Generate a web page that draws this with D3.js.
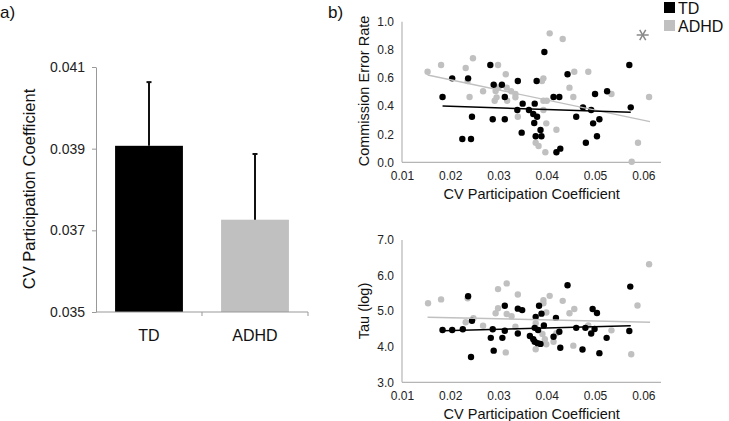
<!DOCTYPE html>
<html><head><meta charset="utf-8">
<script src="https://cdn.jsdelivr.net/npm/d3@7/dist/d3.min.js"></script>
<style>
body{margin:0;background:#fff}
svg{display:block}
text{font-family:"Liberation Sans",Arial,sans-serif}
</style>
</head><body>
<svg id="c" width="729" height="421"></svg>
<script>
// ---------- Panel a: bar chart ----------
const barCategories = ["TD", "ADHD"];
const barMeans = [0.03907, 0.03726];
const barErrors = [0.00156, 0.00161];
const barTicks = [0.035, 0.037, 0.039, 0.041];

// ---------- Panel b: scatter data ----------
const tdCvTop = [0.0184,0.0204,0.0237,0.0283,0.0245,0.0225,0.0243,0.0290,0.0307,0.0288,0.0313,0.0313,0.0340,0.0379,0.0339,0.0350,0.0363,0.0375,0.0372,0.0380,0.0374,0.0348,0.0377,0.0395,0.0387,0.0389,0.0414,0.0426,0.0443,0.0420,0.0428,0.0461,0.0475,0.0492,0.0500,0.0496,0.0509,0.0481,0.0504,0.0525,0.0571,0.0574];
const tdCommission = [0.464,0.597,0.597,0.692,0.324,0.166,0.166,0.552,0.552,0.306,0.306,0.464,0.578,0.578,0.372,0.417,0.372,0.417,0.344,0.324,0.280,0.211,0.185,0.784,0.230,0.185,0.464,0.464,0.626,0.071,0.097,0.324,0.391,0.372,0.486,0.277,0.306,0.139,0.185,0.505,0.692,0.391];
const adhdCvTop = [0.0153,0.0181,0.0232,0.0247,0.0299,0.0315,0.0236,0.0240,0.0268,0.0294,0.0300,0.0292,0.0296,0.0317,0.0318,0.0326,0.0335,0.0335,0.0340,0.0377,0.0383,0.0406,0.0433,0.0457,0.0486,0.0393,0.0390,0.0447,0.0455,0.0393,0.0400,0.0393,0.0534,0.0612,0.0399,0.0420,0.0397,0.0589,0.0576];
const adhdCommission = [0.644,0.692,0.671,0.740,0.692,0.626,0.578,0.464,0.505,0.507,0.533,0.438,0.462,0.531,0.438,0.505,0.486,0.462,0.324,0.139,0.116,0.917,0.877,0.644,0.644,0.597,0.578,0.531,0.464,0.438,0.438,0.372,0.486,0.464,0.277,0.232,0.071,0.139,0.004];

const tdCvBottom = [0.0184,0.0204,0.0226,0.0237,0.0245,0.0243,0.0288,0.0284,0.0290,0.0308,0.0313,0.0313,0.0340,0.0349,0.0340,0.0365,0.0372,0.0375,0.0381,0.0377,0.0384,0.0375,0.0382,0.0443,0.0573,0.0389,0.0419,0.0495,0.0504,0.0394,0.0426,0.0461,0.0480,0.0499,0.0492,0.0414,0.0524,0.0571,0.0428,0.0474,0.0509,0.0387];
const tdTau = [4.47,4.47,4.49,5.42,4.73,3.71,4.49,4.25,3.89,4.25,5.15,4.45,5.07,5.03,4.37,4.30,4.21,4.14,4.10,4.84,5.15,4.53,4.47,5.73,5.69,4.93,4.81,5.06,4.95,4.60,4.42,4.53,4.53,4.50,4.37,4.28,4.25,4.44,3.97,3.92,3.82,4.08];
const adhdCvBottom = [0.0154,0.0181,0.0236,0.0232,0.0248,0.0268,0.0294,0.0299,0.0317,0.0327,0.0299,0.0317,0.0340,0.0315,0.0335,0.0377,0.0377,0.0393,0.0393,0.0406,0.0433,0.0447,0.0457,0.0399,0.0391,0.0396,0.0399,0.0414,0.0455,0.0486,0.0534,0.0588,0.0612,0.0575,0.0420];
const adhdTau = [5.22,5.33,5.36,4.69,4.80,4.59,4.94,5.08,4.92,4.86,5.62,5.78,5.47,3.84,4.56,4.66,3.93,5.31,5.22,5.43,5.29,4.94,5.06,4.96,4.36,4.21,4.07,4.14,4.03,4.60,4.46,5.16,6.32,3.79,4.38];

// fitted trend lines (start/end)
const tdCommissionFitX = [0.0184, 0.0574];
const tdCommissionFitY = [0.400, 0.356];
const adhdCommissionFitX = [0.0153, 0.0614];
const adhdCommissionFitY = [0.621, 0.289];
const tdTauFitX = [0.0184, 0.0574];
const tdTauFitY = [4.45, 4.59];
const adhdTauFitX = [0.0153, 0.0614];
const adhdTauFitY = [4.83, 4.69];

const cvTicks = [0.01, 0.02, 0.03, 0.04, 0.05, 0.06];
const commissionTicks = [0, 0.2, 0.4, 0.6, 0.8, 1.0];
const tauTicks = [3, 4, 5, 6, 7];

const colTD = "#000000", colADHD = "#c0c0c0";
const svg = d3.select("#c");
svg.append("rect").attr("width", 729).attr("height", 421).attr("fill", "#fff");

// ===== Panel a =====
const yBar = d3.scaleLinear().domain([0.035, 0.041]).range([312, 67]);
const xBar = d3.scaleBand().domain(barCategories).range([96, 308]).paddingInner(0.36).paddingOuter(0.18);

const gA = svg.append("g");
const yAx = gA.append("g").attr("transform", "translate(96,0)")
  .call(d3.axisLeft(yBar).tickValues(barTicks).tickFormat(d3.format(".3f")).tickSize(4).tickSizeOuter(0).tickPadding(7));
yAx.select(".domain").attr("stroke", "#999");
yAx.selectAll(".tick line").attr("stroke", "#999");
yAx.selectAll(".tick text").attr("font-size", 14).attr("fill", "#222").attr("font-family", "Liberation Sans, Arial, sans-serif");

gA.selectAll("rect.bar").data(barCategories).enter().append("rect")
  .attr("x", d => xBar(d)).attr("width", xBar.bandwidth())
  .attr("y", (d, i) => yBar(barMeans[i]))
  .attr("height", (d, i) => yBar(0.035) - yBar(barMeans[i]))
  .attr("fill", (d, i) => i === 0 ? colTD : colADHD);

// error bars
barCategories.forEach((d, i) => {
  const cx = xBar(d) + xBar.bandwidth() / 2;
  gA.append("line").attr("x1", cx).attr("x2", cx)
    .attr("y1", yBar(barMeans[i])).attr("y2", yBar(barMeans[i] + barErrors[i]))
    .attr("stroke", "#111").attr("stroke-width", 2);
  gA.append("line").attr("x1", cx - 2.5).attr("x2", cx + 2.5)
    .attr("y1", yBar(barMeans[i] + barErrors[i])).attr("y2", yBar(barMeans[i] + barErrors[i]))
    .attr("stroke", "#111").attr("stroke-width", 2);
});

// x axis with boundary ticks
const x0 = xBar.range()[0], x1 = xBar.range()[1];
gA.append("line").attr("x1", x0).attr("x2", x1).attr("y1", yBar(0.035)).attr("y2", yBar(0.035)).attr("stroke", "#999");
const bounds = barCategories.map(d => xBar(d) - xBar.step() * xBar.paddingOuter()).concat([x1]);
gA.selectAll("line.bt").data(bounds.slice(1)).enter().append("line")
  .attr("x1", d => d).attr("x2", d => d).attr("y1", yBar(0.035)).attr("y2", yBar(0.035) + 4).attr("stroke", "#999");
gA.selectAll("text.cat").data(barCategories).enter().append("text")
  .attr("x", d => xBar(d) + xBar.bandwidth() / 2).attr("y", 341)
  .attr("text-anchor", "middle").attr("font-size", 16).attr("fill", "#111").text(d => d);

gA.append("text").attr("transform", "translate(35,189) rotate(-90)")
  .attr("text-anchor", "middle").attr("font-size", 16.5).attr("fill", "#111")
  .text("CV Participation Coefficient");

svg.append("text").attr("x", 0).attr("y", 18).attr("font-family", "Open Sans, sans-serif").attr("font-size", 17).attr("fill", "#111").text("a)");
svg.append("text").attr("x", 328).attr("y", 18).attr("font-family", "Open Sans, sans-serif").attr("font-size", 17).attr("fill", "#111").text("b)");

// ===== Panel b scatter helper =====
function scatter(opts) {
  const g = svg.append("g");
  const x = d3.scaleLinear().domain([0.01, 0.06]).range([402, 643.3]);
  const y = d3.scaleLinear().domain(opts.yDomain).range(opts.yRange);
  const yb = opts.yRange[0];
  // axes lines
  g.append("line").attr("x1", x(0.01)).attr("x2", 661).attr("y1", yb).attr("y2", yb).attr("stroke", "#b5b5b5").attr("stroke-width", 1.2);
  g.append("line").attr("x1", x(0.01)).attr("x2", x(0.01)).attr("y1", yb).attr("y2", opts.yRange[1]).attr("stroke", "#b5b5b5").attr("stroke-width", 1.2);
  const ya = g.append("g").attr("transform", `translate(${x(0.01)},0)`)
    .call(d3.axisLeft(y).tickValues(opts.yTicks).tickFormat(d3.format(".1f")).tickSize(0).tickPadding(8));
  ya.select(".domain").remove();
  ya.selectAll("text").attr("font-size", 12).attr("fill", "#222").attr("font-family", "Liberation Sans, Arial, sans-serif");
  const xa = g.append("g").attr("transform", `translate(0,${yb})`)
    .call(d3.axisBottom(x).tickValues(cvTicks).tickFormat(d3.format(".2f")).tickSize(0).tickPadding(9));
  xa.select(".domain").remove();
  xa.selectAll("text").attr("font-size", 12).attr("fill", "#222").attr("font-family", "Liberation Sans, Arial, sans-serif");
  g.append("text").attr("x", 531.7).attr("y", yb + 36.5).attr("text-anchor", "middle")
    .attr("font-size", 14.5).attr("fill", "#111").text("CV Participation Coefficient");
  g.append("text").attr("transform", `translate(369,${opts.titleY}) rotate(-90)`).attr("text-anchor", "middle")
    .attr("font-size", 14.5).attr("fill", "#111").text(opts.yTitle);
  // dots
  g.selectAll("circle.a").data(opts.adhdX).enter().append("circle")
    .attr("cx", d => x(d)).attr("cy", (d, i) => y(opts.adhdY[i])).attr("r", 3.2).attr("fill", colADHD);
  g.selectAll("circle.t").data(opts.tdX).enter().append("circle")
    .attr("cx", d => x(d)).attr("cy", (d, i) => y(opts.tdY[i])).attr("r", 3.2).attr("fill", colTD);
  // trend lines
  const line = d3.line().x(d => x(d[0])).y(d => y(d[1]));
  g.append("path").attr("d", line(d3.zip(opts.adhdFitX, opts.adhdFitY))).attr("stroke", colADHD).attr("stroke-width", 1.4).attr("fill", "none");
  g.append("path").attr("d", line(d3.zip(opts.tdFitX, opts.tdFitY))).attr("stroke", colTD).attr("stroke-width", 1.4).attr("fill", "none");
  return {x, y};
}

scatter({yDomain: [0, 1], yRange: [162.3, 21.7], yTicks: commissionTicks, yTitle: "Commission Error Rate", titleY: 91,
  tdX: tdCvTop, tdY: tdCommission, adhdX: adhdCvTop, adhdY: adhdCommission,
  tdFitX: tdCommissionFitX, tdFitY: tdCommissionFitY, adhdFitX: adhdCommissionFitX, adhdFitY: adhdCommissionFitY});

scatter({yDomain: [3, 7], yRange: [382.3, 240], yTicks: tauTicks, yTitle: "Tau (log)", titleY: 311,
  tdX: tdCvBottom, tdY: tdTau, adhdX: adhdCvBottom, adhdY: adhdTau,
  tdFitX: tdTauFitX, tdFitY: tdTauFitY, adhdFitX: adhdTauFitX, adhdFitY: adhdTauFitY});

// significance asterisk
const ast = svg.append("g").attr("transform", "translate(642.7,35)");
[0, 60, 120].forEach(a => {
  const r = 6, rad = a * Math.PI / 180;
  ast.append("line").attr("x1", -r * Math.cos(rad)).attr("y1", -r * Math.sin(rad))
    .attr("x2", r * Math.cos(rad)).attr("y2", r * Math.sin(rad))
    .attr("stroke", "#888").attr("stroke-width", 1.5);
});

// legend
const legend = svg.append("g");
const legendLabels = ["TD", "ADHD"];
legend.selectAll("rect").data(legendLabels).enter().append("rect")
  .attr("x", 664).attr("y", (d, i) => 2 + i * 18).attr("width", 11).attr("height", 11)
  .attr("fill", (d, i) => i === 0 ? colTD : colADHD);
legend.selectAll("text").data(legendLabels).enter().append("text")
  .attr("x", 678).attr("y", (d, i) => 13.5 + i * 18).attr("font-size", 16).attr("fill", "#111").text(d => d);
</script>
</body></html>
